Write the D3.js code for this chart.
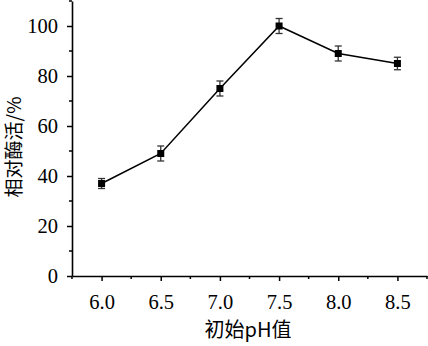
<!DOCTYPE html>
<html>
<head>
<meta charset="utf-8">
<script src="https://cdn.jsdelivr.net/npm/d3@7"></script>
<style>
  html, body { margin: 0; padding: 0; background: #fff; }
  svg { display: block; }
</style>
</head>
<body>
<svg id="chart" width="428" height="346"></svg>
<script>
// Relative enzyme activity vs initial pH
const phValues = [6.0, 6.5, 7.0, 7.5, 8.0, 8.5];
const activity = [37, 49, 75, 100, 89, 85];
const errors = [2, 3, 3, 3, 3, 2.5];
const xTicks = [6.0, 6.5, 7.0, 7.5, 8.0, 8.5];
const yTicks = [0, 20, 40, 60, 80, 100];
const xTitle = "初始pH值";
const yTitle = "相对酶活/%";

const serifFont = "'Liberation Serif', 'Times New Roman', serif";
const cjkFont = "'Noto Sans CJK SC', sans-serif";

const svg = d3.select("#chart");
const plotLeft = 72, plotRight = 427, plotTop = 1, plotBottom = 276;

const x = d3.scaleLinear().domain([5.75, 8.75]).range([plotLeft, plotRight]);
const y = d3.scaleLinear().domain([0, 110]).range([plotBottom, plotTop]);

// minor ticks
const xMinor = d3.range(5.75, 8.76, 0.25).filter(v => !xTicks.some(t => Math.abs(t - v) < 1e-6));
const yMinor = d3.range(10, 111, 20);

const gx = svg.append("g").attr("transform", `translate(0,${plotBottom})`);
gx.call(d3.axisBottom(x).tickValues(xTicks).tickFormat(d3.format(".1f")).tickSize(5).tickSizeOuter(0));
gx.append("g").selectAll("line").data(xMinor).join("line")
  .attr("x1", d => x(d)).attr("x2", d => x(d)).attr("y1", 0).attr("y2", 3)
  .attr("stroke", "#000").attr("stroke-width", 1.5);

const gy = svg.append("g").attr("transform", `translate(${plotLeft},0)`);
gy.call(d3.axisLeft(y).tickValues(yTicks).tickSize(5).tickSizeOuter(0));
gy.append("g").selectAll("line").data(yMinor).join("line")
  .attr("y1", d => y(d)).attr("y2", d => y(d)).attr("x1", 0).attr("x2", -3)
  .attr("stroke", "#000").attr("stroke-width", 1.5);

[gx, gy].forEach(g => {
  g.attr("font-family", serifFont).attr("font-size", 20.5);
  g.select(".domain").attr("stroke", "#000").attr("stroke-width", 1.6);
  g.selectAll(".tick line").attr("stroke", "#000").attr("stroke-width", 1.5);
  g.selectAll(".tick text")
    .style("font-family", serifFont).style("font-size", "20.5px").attr("fill", "#000");
});
gx.selectAll(".tick text").attr("dy", null).attr("y", 33);
gy.selectAll(".tick text").attr("x", -14).attr("dy", "0.34em");

// connecting line
const pts = phValues.map((p, i) => ({ p, v: activity[i], e: errors[i] }));
svg.append("path").datum(pts)
  .attr("fill", "none").attr("stroke", "#000").attr("stroke-width", 1.5)
  .attr("d", d3.line().x(d => x(d.p)).y(d => y(d.v)));

// error bars
const eb = svg.append("g").attr("stroke", "#333").attr("stroke-width", 1.3);
pts.forEach(d => {
  eb.append("line").attr("x1", x(d.p)).attr("x2", x(d.p)).attr("y1", y(d.v - d.e)).attr("y2", y(d.v + d.e));
  eb.append("line").attr("x1", x(d.p) - 3.5).attr("x2", x(d.p) + 3.5).attr("y1", y(d.v - d.e)).attr("y2", y(d.v - d.e));
  eb.append("line").attr("x1", x(d.p) - 3.5).attr("x2", x(d.p) + 3.5).attr("y1", y(d.v + d.e)).attr("y2", y(d.v + d.e));
});

// square markers
svg.append("g").selectAll("rect").data(pts).join("rect")
  .attr("x", d => x(d.p) - 3.5).attr("y", d => y(d.v) - 3.5)
  .attr("width", 7).attr("height", 7).attr("fill", "#000");

// axis titles
svg.append("text").attr("x", 248).attr("y", 337)
  .attr("text-anchor", "middle").style("font-family", cjkFont).style("font-size", "20px").attr("fill", "#000")
  .text(xTitle);
svg.append("text").attr("transform", `translate(21,147) rotate(-90)`)
  .attr("text-anchor", "middle").style("font-family", cjkFont).style("font-size", "19px").attr("fill", "#000")
  .text(yTitle);
</script>
</body>
</html>
